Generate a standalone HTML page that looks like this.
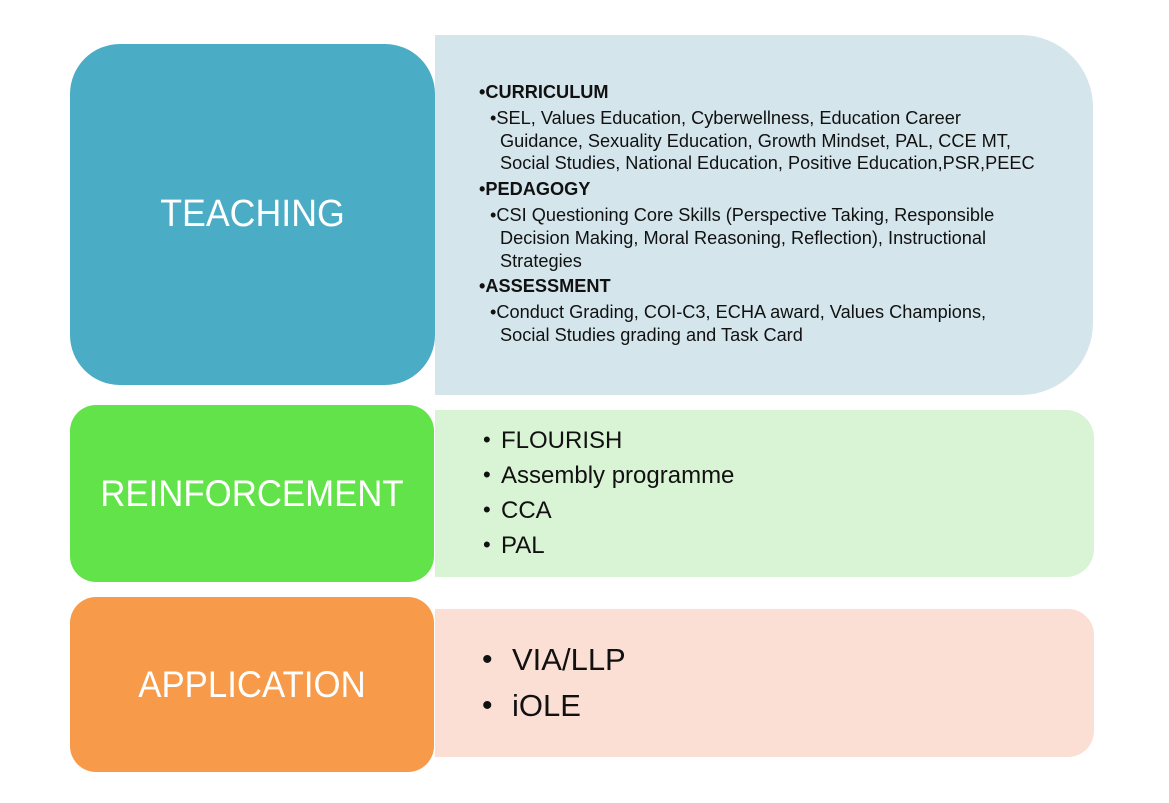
<!DOCTYPE html>
<html><head><meta charset="utf-8"><style>
body{margin:0;width:1169px;height:803px;background:#fff;position:relative;overflow:hidden;font-family:"Liberation Sans",sans-serif}
.b{position:absolute}
.t{position:absolute;white-space:nowrap;transform-origin:0 50%;line-height:1;color:#111}
.w{position:absolute;color:#fff;white-space:nowrap;text-align:center;line-height:1;transform:scaleX(.94)}
.s{font-size:18px;transform:scaleX(1.01)}
</style></head><body>
<div class="b" style="left:435px;top:35px;width:658px;height:360px;background:#d4e5ec;border-radius:0 72px 72px 0"></div>
<div class="b" style="left:70px;top:44px;width:365px;height:341px;background:#4bacc6;border-radius:50px"></div>
<div class="w" style="left:70px;width:365px;top:195px;font-size:38px">TEACHING</div>

<div class="b" style="left:435px;top:410px;width:659px;height:167px;background:#d9f3d5;border-radius:0 28px 28px 0"></div>
<div class="b" style="left:70px;top:405px;width:364px;height:177px;background:#63e34a;border-radius:26px"></div>
<div class="w" style="left:70px;width:364px;top:475px;font-size:37px">REINFORCEMENT</div>

<div class="b" style="left:435px;top:609px;width:659px;height:148px;background:#fbdfd4;border-radius:0 26px 26px 0"></div>
<div class="b" style="left:70px;top:597px;width:364px;height:175px;background:#f79a4a;border-radius:26px"></div>
<div class="w" style="left:70px;width:364px;top:666px;font-size:37px">APPLICATION</div>

<div class="t s" style="left:479px;top:83px;font-weight:bold">•CURRICULUM</div>
<div class="t s" style="left:490px;top:109px">•SEL, Values Education, Cyberwellness, Education Career</div>
<div class="t s" style="left:500px;top:132px">Guidance, Sexuality Education, Growth Mindset, PAL, CCE MT,</div>
<div class="t s" style="left:500px;top:154px">Social Studies, National Education, Positive Education,PSR,PEEC</div>
<div class="t s" style="left:479px;top:180px;font-weight:bold">•PEDAGOGY</div>
<div class="t s" style="left:490px;top:206px">•CSI Questioning Core Skills (Perspective Taking, Responsible</div>
<div class="t s" style="left:500px;top:229px">Decision Making, Moral Reasoning, Reflection), Instructional</div>
<div class="t s" style="left:500px;top:252px">Strategies</div>
<div class="t s" style="left:479px;top:277px;font-weight:bold">•ASSESSMENT</div>
<div class="t s" style="left:490px;top:303px">•Conduct Grading, COI-C3, ECHA award, Values Champions,</div>
<div class="t s" style="left:500px;top:326px">Social Studies grading and Task Card</div>

<div class="t" style="left:483px;top:429px;font-size:22px">•</div><div class="t" style="left:501px;top:429px;font-size:24px">FLOURISH</div>
<div class="t" style="left:483px;top:464px;font-size:22px">•</div><div class="t" style="left:501px;top:464px;font-size:24px">Assembly programme</div>
<div class="t" style="left:483px;top:499px;font-size:22px">•</div><div class="t" style="left:501px;top:499px;font-size:24px">CCA</div>
<div class="t" style="left:483px;top:534px;font-size:22px">•</div><div class="t" style="left:501px;top:534px;font-size:24px">PAL</div>

<div class="t" style="left:482px;top:645px;font-size:30px">•</div><div class="t" style="left:512px;top:644px;font-size:31px">VIA/LLP</div>
<div class="t" style="left:482px;top:691px;font-size:30px">•</div><div class="t" style="left:512px;top:690px;font-size:31px">iOLE</div>
</body></html>
